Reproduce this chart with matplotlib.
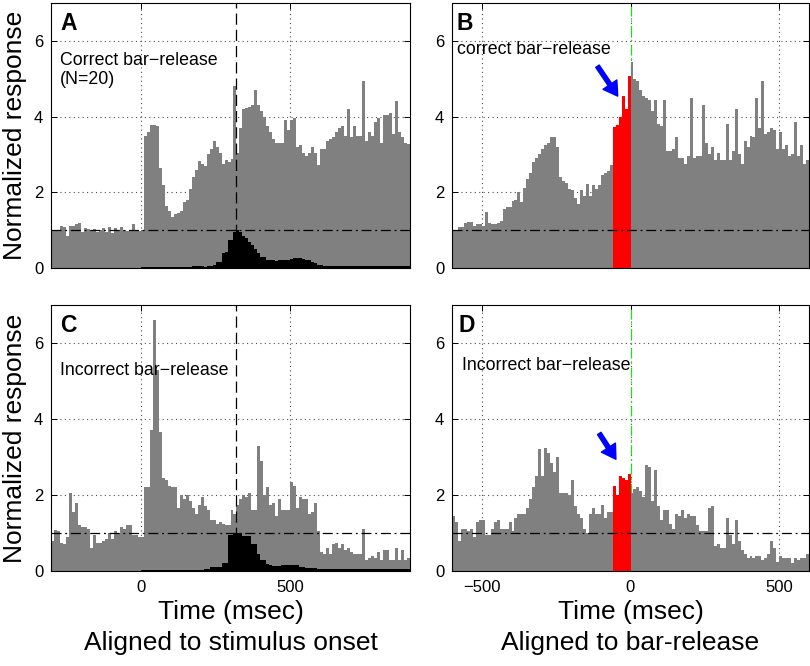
import matplotlib

matplotlib.use("Agg")
import matplotlib.pyplot as plt
import numpy as np

plt.rcParams['font.family'] = ['Liberation Sans', 'DejaVu Sans']

BIN = 10  # ms

# ---------- stimulus-aligned PSTHs (A, C): 10 ms bins from -300 to 900 ms ----------
stim_start = -300
stim_correct = [
    0.98, 0.98, 0.98, 1.12, 1.08, 0.85, 1.10, 1.12, 1.15, 1.18,
    0.95, 1.05, 1.02, 1.00, 1.03, 0.95, 1.00, 1.05, 0.95, 1.08,
    0.92, 1.05, 1.00, 1.07, 1.00, 0.98, 1.00, 1.15, 1.00, 0.98,
    1.00, 3.50, 3.60, 3.78, 3.78, 3.75, 2.65, 2.20, 1.65, 1.50,
    1.35, 1.42, 1.45, 1.50, 1.75, 1.80, 2.10, 2.40, 2.60, 2.82,
    2.75, 2.70, 3.00, 3.15, 3.35, 3.20, 3.05, 2.75, 2.85, 2.80,
    2.88, 4.80, 3.05, 3.70, 4.20, 4.22, 4.25, 4.30, 4.70, 4.30,
    4.15, 4.00, 3.75, 3.60, 3.40, 3.30, 3.30, 3.30, 3.92, 3.65,
    3.90, 3.95, 3.20, 3.25, 3.05, 2.95, 3.05, 3.20, 3.05, 2.72,
    3.15, 3.15, 3.35, 3.40, 3.45, 3.60, 3.70, 3.75, 3.50, 4.20,
    3.45, 3.75, 3.50, 3.50, 4.95, 3.35, 3.60, 3.50, 3.85, 3.95,
    3.30, 4.05, 4.05, 4.10, 3.55, 4.40, 3.60, 3.45, 3.30, 3.28,
]
stim_incorrect = [
    0.80, 1.07, 1.05, 0.75, 0.70, 0.90, 2.05, 1.55, 1.78, 1.20,
    1.15, 1.15, 1.10, 0.60, 0.95, 0.75, 0.75, 0.80, 0.85, 1.00,
    0.85, 1.05, 1.00, 1.15, 1.10, 1.20, 1.20, 0.95, 0.95, 0.90,
    0.90, 2.20, 2.20, 3.70, 6.60, 5.30, 3.65, 2.45, 2.40, 2.25,
    2.20, 2.20, 1.65, 2.00, 1.90, 2.00, 1.85, 1.65, 1.50, 1.75,
    1.95, 1.70, 1.60, 1.35, 1.35, 1.25, 1.30, 1.25, 1.20, 1.20,
    1.60, 1.50, 1.75, 1.90, 2.00, 1.95, 2.05, 1.60, 1.60, 3.30,
    2.90, 2.00, 2.20, 1.75, 1.80, 1.45, 1.90, 1.60, 1.60, 1.60,
    2.35, 2.25, 1.65, 1.95, 1.90, 1.90, 1.50, 1.55, 1.80, 1.05,
    0.50, 0.45, 0.60, 0.45, 0.70, 0.75, 0.60, 0.70, 0.55, 0.60,
    0.50, 0.45, 0.45, 0.45, 1.10, 0.30, 0.35, 0.40, 0.35, 0.50,
    0.30, 0.55, 0.55, 0.30, 0.30, 0.60, 0.30, 0.55, 0.30, 0.35,
]
# bar-release time distribution relative to stimulus onset (0 to 900 ms)
release_start = 0
release_correct = [
    0.02, 0.02, 0.02, 0.02, 0.02, 0.02, 0.02, 0.02, 0.02, 0.02,
    0.02, 0.02, 0.02, 0.02, 0.02, 0.02, 0.02, 0.06, 0.06, 0.06,
    0.04, 0.03, 0.05, 0.06, 0.08, 0.15, 0.15, 0.40, 0.42, 0.75,
    0.75, 0.95, 1.00, 0.95, 0.85, 0.80, 0.70, 0.60, 0.50, 0.40,
    0.30, 0.28, 0.22, 0.22, 0.20, 0.18, 0.20, 0.22, 0.22, 0.22,
    0.25, 0.27, 0.27, 0.27, 0.25, 0.22, 0.20, 0.15, 0.13, 0.08,
    0.07, 0.05, 0.05, 0.05, 0.05, 0.05, 0.05, 0.05, 0.05, 0.05,
    0.05, 0.05, 0.05, 0.05, 0.05, 0.05, 0.05, 0.05, 0.05, 0.05,
    0.05, 0.05, 0.05, 0.05, 0.05, 0.05, 0.05, 0.05, 0.05, 0.05,
]
release_incorrect = [
    0.02, 0.02, 0.02, 0.02, 0.02, 0.02, 0.02, 0.02, 0.02, 0.02,
    0.02, 0.02, 0.02, 0.02, 0.02, 0.02, 0.02, 0.02, 0.02, 0.02,
    0.02, 0.05, 0.05, 0.10, 0.10, 0.10, 0.10, 0.22, 0.22, 0.95,
    0.95, 1.00, 1.00, 1.00, 0.92, 0.92, 0.92, 0.70, 0.70, 0.45,
    0.30, 0.30, 0.18, 0.15, 0.12, 0.12, 0.12, 0.17, 0.17, 0.17,
    0.17, 0.17, 0.17, 0.10, 0.10, 0.07, 0.07, 0.07, 0.07, 0.05,
    0.05, 0.05, 0.05, 0.05, 0.05, 0.05, 0.05, 0.05, 0.05, 0.05,
    0.05, 0.05, 0.05, 0.05, 0.05, 0.05, 0.05, 0.05, 0.05, 0.05,
    0.05, 0.05, 0.05, 0.05, 0.05, 0.05, 0.05, 0.05, 0.05, 0.05,
]
mean_release = 320  # ms after stimulus onset

# ---------- bar-release-aligned PSTHs (B, D): 10 ms bins from -600 to 600 ms ----------
bar_start = -600
pre_window = (-60, 0)  # bins shown in red
bar_correct = [
    0.98, 1.00, 1.08, 1.08, 1.20, 1.22, 1.22, 1.10, 1.15, 1.15,
    1.12, 1.47, 1.20, 1.15, 1.15, 1.20, 1.25, 1.55, 1.60, 1.62,
    1.78, 1.80, 2.00, 1.75, 2.12, 2.35, 2.50, 2.80, 2.90, 3.00,
    3.15, 3.25, 3.30, 3.45, 3.45, 3.20, 2.40, 2.30, 2.25, 2.10,
    2.05, 1.85, 1.70, 2.05, 1.90, 2.22, 1.90, 2.20, 2.10, 2.20,
    2.45, 2.50, 2.55, 2.72, 3.72, 3.78, 4.00, 4.55, 4.20, 5.08,
    5.45, 5.00, 4.95, 4.70, 4.55, 4.50, 4.45, 4.15, 4.45, 3.80,
    3.75, 4.45, 3.10, 3.10, 3.15, 3.45, 2.90, 2.90, 2.75, 2.95,
    4.50, 2.90, 2.95, 2.95, 4.30, 3.30, 3.00, 3.20, 2.85, 3.05,
    2.85, 2.85, 3.80, 2.85, 3.10, 4.20, 3.00, 2.75, 3.35, 3.20,
    3.50, 3.45, 4.50, 3.70, 4.95, 3.55, 3.60, 3.70, 3.65, 3.15,
    3.60, 3.15, 3.25, 2.95, 3.00, 3.85, 2.95, 3.25, 2.75, 2.85,
]
bar_incorrect = [
    1.45, 1.30, 0.80, 1.10, 1.10, 1.05, 1.10, 0.90, 1.30, 1.35,
    1.35, 0.95, 0.95, 1.10, 1.30, 1.35, 1.10, 1.10, 1.10, 1.30,
    1.05, 1.40, 1.50, 1.50, 1.50, 1.65, 1.90, 2.20, 2.50, 3.22,
    2.50, 3.25, 3.10, 2.85, 2.60, 3.00, 2.05, 2.05, 2.05, 2.00,
    2.40, 1.70, 1.50, 1.40, 1.10, 1.00, 1.50, 1.65, 1.50, 1.50,
    1.75, 1.40, 1.55, 1.55, 2.24, 2.00, 2.50, 2.45, 2.40, 2.55,
    2.05, 2.15, 2.20, 2.10, 1.95, 2.80, 2.75, 1.85, 2.65, 1.70,
    1.35, 1.60, 1.60, 1.25, 1.10, 1.50, 1.45, 1.60, 1.40, 1.50,
    1.45, 1.45, 1.20, 1.05, 1.05, 1.05, 1.65, 1.70, 0.65, 0.70,
    0.60, 0.60, 1.40, 0.95, 0.70, 1.35, 0.80, 0.55, 0.45, 0.35,
    0.40, 0.35, 0.40, 0.40, 0.30, 0.35, 0.45, 0.80, 0.60, 0.25,
    0.40, 0.35, 0.35, 0.35, 0.20, 0.35, 0.30, 0.35, 0.35, 0.45,
]

GRAY = '#808080'
W, H = 810, 666


def make_axes(fig, left, top, right, bottom):
    return fig.add_axes([left / W, 1 - bottom / H, (right - left) / W, (bottom - top) / H])


def style(ax, xlim, xticks, show_xlabels):
    ax.set_xlim(*xlim)
    ax.set_ylim(0, 7)
    ax.set_xticks(xticks)
    ax.set_yticks([0, 2, 4, 6])
    if not show_xlabels:
        ax.set_xticklabels([])
    ax.set_axisbelow(True)
    ax.grid(True, linestyle=(0, (1, 3)), color='0.3', lw=0.8)
    ax.tick_params(direction='in', length=4, width=0.7, top=True, right=True,
                   labelsize=12)
    ax.tick_params(axis='x', pad=6.5)
    ax.tick_params(axis='y', pad=5.5)
    for s in ax.spines.values():
        s.set_linewidth(0.8)
    ax.axhline(1, color='black', lw=0.9, dashes=(8, 3, 1.5, 3), zorder=4)


def psth(ax, start, vals, colors=GRAY, zorder=1):
    edges = start + BIN * np.arange(len(vals))
    ax.bar(edges, vals, width=BIN, align='edge', color=colors, linewidth=0, zorder=zorder)
    return edges


fig = plt.figure(figsize=(W / 100, H / 100), dpi=100)

axA = make_axes(fig, 51, 3, 410, 268)
axB = make_axes(fig, 452, 3, 809, 268)
axC = make_axes(fig, 51, 305, 410, 571)
axD = make_axes(fig, 452, 305, 809, 571)

# stimulus-aligned panels
for ax, gray, black, show in [(axA, stim_correct, release_correct, False),
                              (axC, stim_incorrect, release_incorrect, True)]:
    psth(ax, stim_start, gray)
    psth(ax, release_start, black, colors='black', zorder=2)
    ax.axvline(mean_release, color='black', lw=0.9, dashes=(9, 4), zorder=5)
    style(ax, (-300, 900), [0, 500], show)

# bar-release-aligned panels
for ax, vals, show in [(axB, bar_correct, False), (axD, bar_incorrect, True)]:
    edges = bar_start + BIN * np.arange(len(vals))
    colors = np.where((edges >= pre_window[0]) & (edges < pre_window[1]), 'red', GRAY)
    psth(ax, bar_start, vals, colors=list(colors))
    ax.axvline(0, color='#22dd22', lw=0.9, dashes=(8, 3, 1.5, 3), zorder=0.8)
    style(ax, (-600, 600), [-500, 0, 500], show)

# panel letters and condition labels
for ax, letter, x0 in [(axA, 'A', 0.025), (axB, 'B', 0.013), (axC, 'C', 0.025), (axD, 'D', 0.017)]:
    ax.text(x0, 0.965, letter, transform=ax.transAxes, fontsize=16.5, fontweight='bold',
            ha='left', va='top', zorder=6)

axA.text(0.025, 0.815, 'Correct bar\u2212release\n(N=20)', transform=axA.transAxes,
         fontsize=12.8, ha='left', va='top', linespacing=1.15)
axB.text(0.013, 0.823, 'correct bar\u2212release', transform=axB.transAxes,
         fontsize=12.8, ha='left', va='center')
axC.text(0.025, 0.752, 'Incorrect bar\u2212release', transform=axC.transAxes,
         fontsize=12.8, ha='left', va='center')
axD.text(0.027, 0.774, 'Incorrect bar\u2212release', transform=axD.transAxes,
         fontsize=12.8, ha='left', va='center')

# blue arrows pointing at the pre-release bins
arrow = dict(facecolor='blue', edgecolor='blue', width=3, headwidth=12, headlength=10, shrink=0)
axB.annotate('', xy=(-43, 4.54), xytext=(-111, 5.33), arrowprops=arrow)
axD.annotate('', xy=(-49, 2.94), xytext=(-105, 3.62), arrowprops=arrow)

# axis labels
for yc in (135.5, 438):
    fig.text(15 / W, 1 - yc / H, 'Normalized response', rotation=90,
             ha='center', va='center', fontsize=19)
for xc, sub in ((230.5, 'Aligned to stimulus onset'), (630.5, 'Aligned to bar-release')):
    fig.text(xc / W, 1 - 612 / H, 'Time (msec)', ha='center', va='center', fontsize=19)
    fig.text(xc / W, 1 - 643 / H, sub, ha='center', va='center', fontsize=19)

fig.savefig('out.png', dpi=100, facecolor='white')
